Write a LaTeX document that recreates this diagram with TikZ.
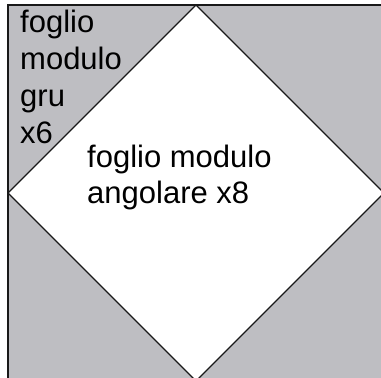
\documentclass[tikz,border=0pt]{standalone}
\usepackage{fontspec}
\setmainfont{Liberation Sans}
\definecolor{sheetgray}{RGB}{190,190,194}

\tikzset{
  edge/.style={draw=black!90,line width=1.4pt,line join=miter},
  label/.style={inner sep=0pt,align=left,anchor=base west,font=\fontsize{31}{37}\selectfont}
}

\begin{document}
\begin{tikzpicture}[x=1pt,y=-1pt]
        \useasboundingbox (0,0) rectangle (381,378);
        \coordinate (q1) at (8,5);
        \coordinate (q2) at (384,381);
        \coordinate (top) at (196,5);
        \coordinate (left) at (8,193);
        \coordinate (right) at (384,193);
        \coordinate (bottom) at (196,381);

        \begin{scope}
        \clip (0,0) rectangle (381,378);
        \path[edge,fill=sheetgray] (q1) rectangle (q2);
        \path[edge,fill=white] (top) -- (right) -- (bottom) -- (left) -- cycle;
        \end{scope}

        % last baseline of each label
        \node[label] (gru) at (20,143) {foglio\\modulo\\gru\\x6};
        \node[label,font=\fontsize{31}{36}\selectfont] (angolare) at (87,203) {foglio modulo\\angolare x8};
    \end{tikzpicture}
\end{document}
